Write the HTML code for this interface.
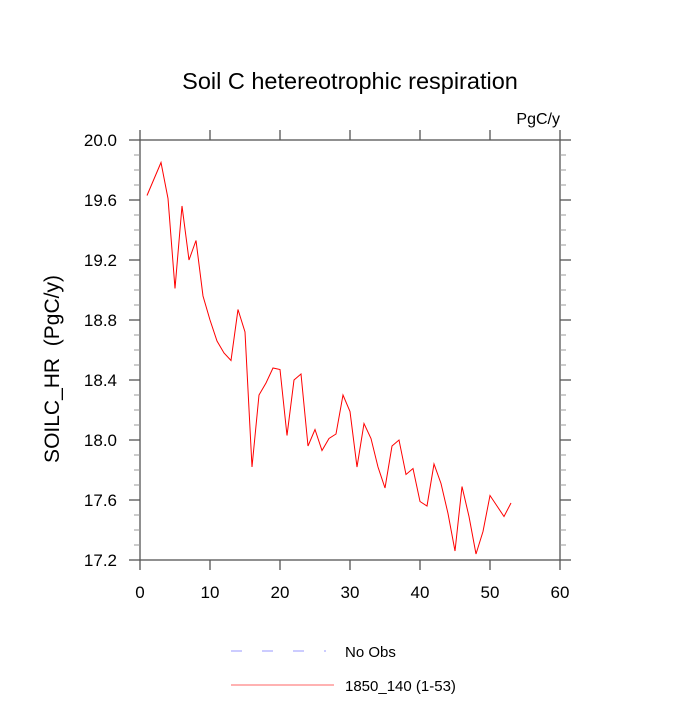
<!DOCTYPE html>
<html><head><meta charset="utf-8"><style>
body{margin:0;background:#fff}
svg text{font-family:"Liberation Sans",sans-serif;fill:#000}
</style></head><body>
<svg id="c" width="700" height="700"></svg>
<script>
const xVals=[];for(let i=1;i<=53;i++)xVals.push(i);
const yVals=[19.63,19.74,19.85,19.61,19.01,19.56,19.20,19.33,18.96,18.80,18.66,18.58,18.53,18.87,18.72,17.82,18.30,18.38,18.48,18.47,18.03,18.40,18.44,17.96,18.07,17.93,18.01,18.04,18.30,18.19,17.82,18.11,18.01,17.82,17.68,17.96,18.00,17.77,17.81,17.59,17.56,17.84,17.71,17.51,17.26,17.69,17.49,17.24,17.39,17.63,17.56,17.49,17.58];
const xTicks=[0,10,20,30,40,50,60];
const yTicks=[17.2,17.6,18.0,18.4,18.8,19.2,19.6,20.0];
const L=140,R=560,T=140,B=560;
const sx=v=>L+(v-0)/60*(R-L), sy=v=>B-(v-17.2)/2.8*(B-T);
const svg=document.getElementById('c');const NS='http://www.w3.org/2000/svg';
function el(t,a,p){const e=document.createElementNS(NS,t);for(const k in a)e.setAttribute(k,a[k]);(p||svg).appendChild(e);return e;}
const ax=el('g',{});


el('rect',{x:L,y:T,width:R-L,height:B-T,fill:'none',stroke:'#555','stroke-width':1.3},ax);
for(let v=17.2;v<=20.001;v+=0.1){const y=sy(v);const maj=Math.abs(((v-17.2)/0.4)-Math.round((v-17.2)/0.4))<0.01;const len=maj?11:6;
el('line',{x1:L-len,x2:L,y1:y,y2:y,stroke:maj?'#555':'#999','stroke-width':maj?1.3:1},ax);
el('line',{x1:R,x2:R+len,y1:y,y2:y,stroke:maj?'#555':'#999','stroke-width':maj?1.3:1},ax);}
yTicks.forEach(v=>{const t=el('text',{x:117,y:sy(v)+6,'text-anchor':'end','font-size':17});t.textContent=v.toFixed(1);

});
xTicks.forEach(v=>{const x=sx(v);el('line',{x1:x,x2:x,y1:B,y2:B+10,stroke:'#555','stroke-width':1.3},ax);el('line',{x1:x,x2:x,y1:T-10,y2:T,stroke:'#555','stroke-width':1.3},ax);
const t=el('text',{x:x,y:B+38,'text-anchor':'middle','font-size':17});t.textContent=v;

});
const line=el('polyline',{points:xVals.map((x,i)=>sx(x)+','+sy(yVals[i])).join(' '),fill:'none',stroke:'#f00','stroke-width':1});


let t=el('text',{x:350,y:89,'text-anchor':'middle','font-size':23.5});t.textContent='Soil C hetereotrophic respiration';

t=el('text',{x:560,y:124,'text-anchor':'end','font-size':16});t.textContent='PgC/y';

t=el('text',{x:0,y:0,'text-anchor':'middle','font-size':21,transform:'translate(59,369) rotate(-90)'});t.textContent='SOILC_HR\u00a0\u00a0(PgC/y)';

const lg=el('g',{});


el('line',{x1:231,x2:326,y1:651,y2:651,stroke:'#99f','stroke-width':1,'stroke-dasharray':'11 20'},lg);
t=el('text',{x:345,y:657,'font-size':15},lg);t.textContent='No Obs';

el('line',{x1:231,x2:334,y1:685,y2:685,stroke:'#f66','stroke-width':1},lg);
t=el('text',{x:345,y:691,'font-size':15},lg);t.textContent='1850_140 (1-53)';

</script>
</body></html>
